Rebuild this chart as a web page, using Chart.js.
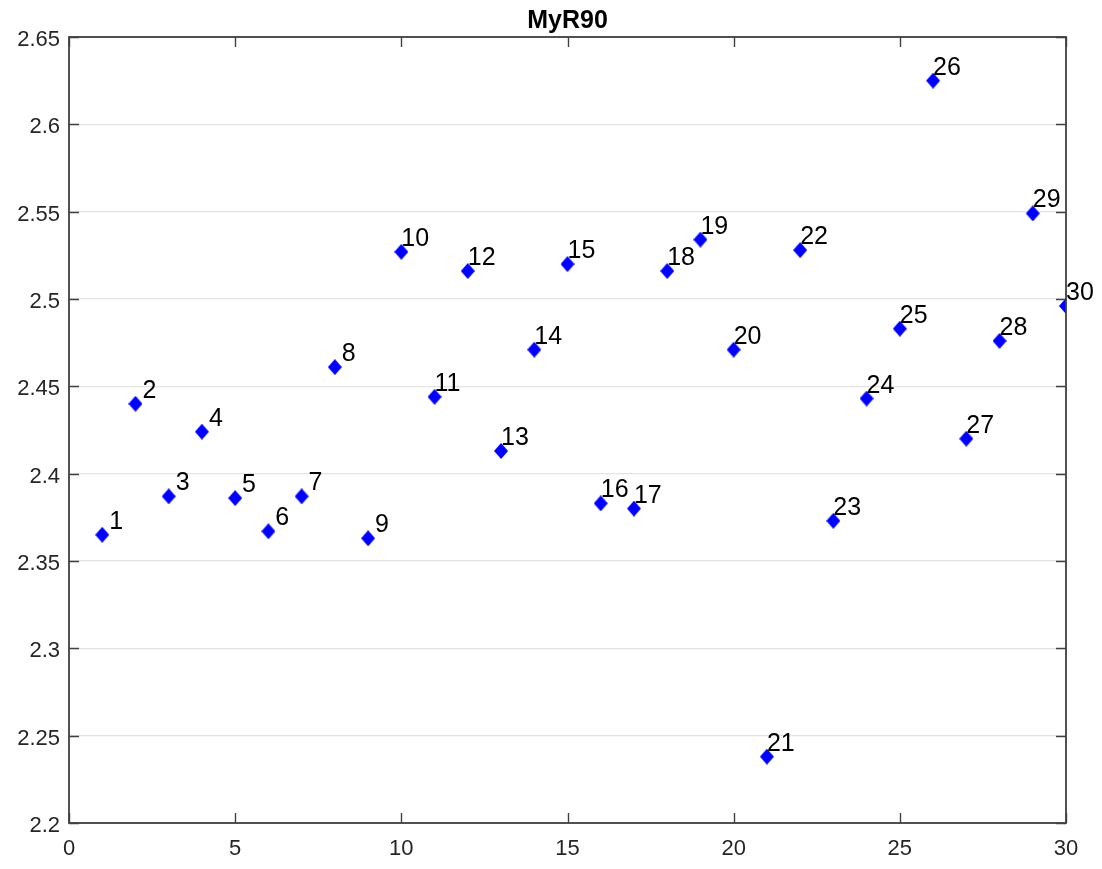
<!DOCTYPE html>
<html>
<head>
<meta charset="utf-8">
<script src="https://cdn.jsdelivr.net/npm/chart.js@4/dist/chart.umd.min.js"></script>
<style>
  html, body { margin: 0; padding: 0; background: #ffffff; }
  #wrap { width: 1102px; height: 869px; position: relative; }
</style>
</head>
<body>
<div id="wrap"><canvas id="c" width="1102" height="869"></canvas></div>
<script>
// ---- data ----
const indices = [1,2,3,4,5,6,7,8,9,10,11,12,13,14,15,16,17,18,19,20,21,22,23,24,25,26,27,28,29,30];
const values = [2.365, 2.440, 2.387, 2.424, 2.386, 2.367, 2.387, 2.461, 2.363, 2.527,
                2.444, 2.516, 2.413, 2.471, 2.520, 2.383, 2.380, 2.516, 2.534, 2.471,
                2.238, 2.528, 2.373, 2.443, 2.483, 2.625, 2.420, 2.476, 2.549, 2.496];
const pointLabels = indices.map(String);
const xTickValues = [0, 5, 10, 15, 20, 25, 30];
const yTickValues = [2.2, 2.25, 2.3, 2.35, 2.4, 2.45, 2.5, 2.55, 2.6, 2.65];
const chartTitle = 'MyR90';

// diamond marker image
const diamond = document.createElement('canvas');
diamond.width = 14; diamond.height = 16;
(function () {
  const g = diamond.getContext('2d');
  g.fillStyle = '#0000ff';
  g.beginPath();
  g.moveTo(7, 0); g.lineTo(14, 8); g.lineTo(7, 16); g.lineTo(0, 8);
  g.closePath(); g.fill();
})();

const FONT = '"Liberation Sans", Arial, Helvetica, sans-serif';
const AXIS_COLOR = '#404040';

const framePlugin = {
  id: 'frame',
  afterDatasetsDraw(chart) {
    const { ctx } = chart;
    const meta = chart.getDatasetMeta(0);
    ctx.save();
    ctx.font = '25px ' + FONT;
    ctx.fillStyle = '#000000';
    ctx.textAlign = 'left';
    ctx.textBaseline = 'alphabetic';
    const sp = ctx.measureText(' ').width;
    meta.data.forEach((pt, i) => {
      const lab = pointLabels[i];
      const off = lab.length < 2 ? sp : 0;
      ctx.fillText(lab, pt.x + off, pt.y - 6);
    });
    ctx.restore();
  },
  afterDraw(chart) {
    const { ctx, chartArea: a } = chart;
    const xs = chart.scales.x, ys = chart.scales.y;
    ctx.save();
    // title centred over the plot area
    ctx.font = 'bold 25px ' + FONT;
    ctx.fillStyle = '#000000';
    ctx.textAlign = 'center';
    ctx.textBaseline = 'alphabetic';
    ctx.fillText(chartTitle, (a.left + a.right) / 2, 28);
    // frame and inward ticks
    ctx.strokeStyle = AXIS_COLOR;
    ctx.lineWidth = 1.8;
    ctx.strokeRect(a.left, a.top, a.right - a.left, a.bottom - a.top);
    ctx.beginPath();
    ctx.lineWidth = 1.4;
    const tl = 10;
    xs.ticks.forEach(t => {
      const px = Math.round(xs.getPixelForValue(t.value)) + 0.5;
      ctx.moveTo(px, a.bottom); ctx.lineTo(px, a.bottom - tl);
      ctx.moveTo(px, a.top); ctx.lineTo(px, a.top + tl);
    });
    ys.ticks.forEach(t => {
      const py = Math.round(ys.getPixelForValue(t.value)) + 0.5;
      ctx.moveTo(a.left, py); ctx.lineTo(a.left + tl, py);
      ctx.moveTo(a.right, py); ctx.lineTo(a.right - tl, py);
    });
    ctx.stroke();
    ctx.restore();
  }
};

new Chart(document.getElementById('c'), {
  type: 'scatter',
  data: {
    datasets: [{
      data: indices.map((x, i) => ({ x: x, y: values[i] })),
      pointStyle: diamond,
      backgroundColor: '#0000ff',
      borderColor: '#0000ff',
      showLine: false
    }]
  },
  options: {
    responsive: false,
    animation: false,
    events: [],
    layout: { padding: { left: 0, right: 36, top: 37, bottom: 0 } },
    plugins: {
      legend: { display: false },
      tooltip: { enabled: false },
      title: { display: false }
    },
    scales: {
      x: {
        type: 'linear',
        min: 0, max: 30,
        afterBuildTicks(scale) { scale.ticks = xTickValues.map(v => ({ value: v })); },
        afterFit(scale) { scale.height = 46; },
        grid: { display: false, drawTicks: false },
        border: { display: false },
        ticks: {
          color: '#262626',
          font: { family: FONT, size: 22 },
          padding: 13,
          maxRotation: 0,
          autoSkip: false,
          callback: v => String(v)
        }
      },
      y: {
        type: 'linear',
        min: 2.2, max: 2.65,
        afterBuildTicks(scale) { scale.ticks = yTickValues.map(v => ({ value: v })); },
        afterFit(scale) { scale.width = 69; },
        grid: { color: '#e3e3e3', lineWidth: 1.2, drawTicks: false },
        border: { display: false },
        ticks: {
          color: '#262626',
          font: { family: FONT, size: 22 },
          padding: 9,
          labelOffset: 3,
          autoSkip: false,
          callback: v => String(Number(v.toFixed(2)))
        }
      }
    }
  },
  plugins: [framePlugin]
});
</script>
</body>
</html>
